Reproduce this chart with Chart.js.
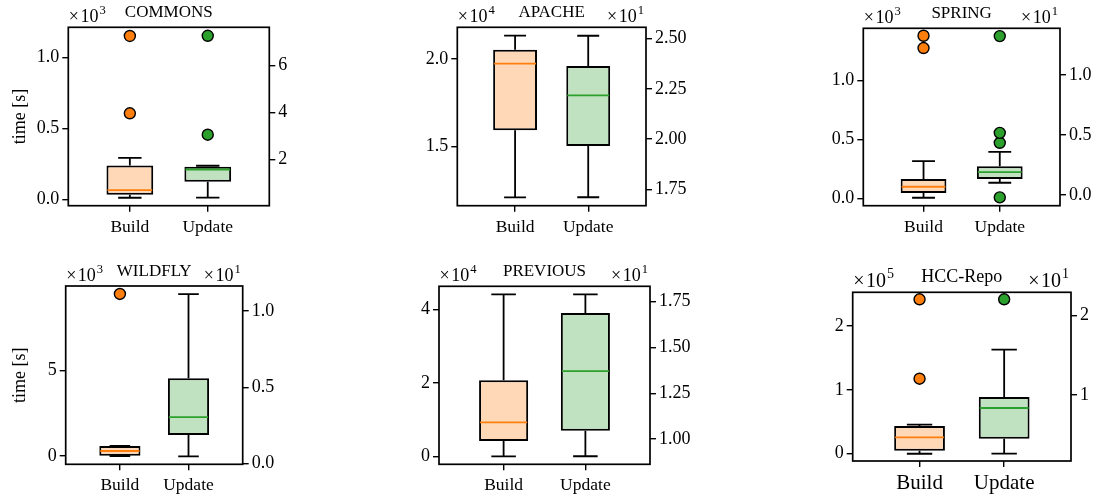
<!DOCTYPE html>
<html>
<head>
<meta charset="utf-8">
<script src="https://cdn.jsdelivr.net/npm/chart.js@4.4.1/dist/chart.umd.min.js"></script>
<style>
  html, body { margin: 0; padding: 0; background: #fff; overflow: hidden; }
  #wrap { position: relative; width: 1104px; height: 497px; overflow: hidden; }
  #wrap canvas { position: absolute; left: 0; top: 0; }
</style>
</head>
<body>
<div id="wrap"></div>
<script>
const categories = ['Build', 'Update'];
const titles = ['COMMONS', 'APACHE', 'SPRING', 'WILDFLY', 'PREVIOUS', 'HCC-Repo'];

// box stats, seconds: [lower whisker, Q1, median, Q3, upper whisker]
const buildStats = [
  [14, 35, 68, 240, 294],
  [12080, 15920, 19730, 20520, 21330],
  [8, 48, 101, 166, 318],
  [0, 20, 292, 584, 584],
  [0, 4170, 9270, 20730, 44180],
  [0, 4700, 25700, 43400, 45500]
];
const buildOutliers = [[607, 1150], [], [1273, 1377], [9457], [], [117600, 242000]];

const updateStats = [
  [0.37, 1.05, 1.57, 1.69, 1.73],
  [17.10, 19.65, 22.17, 23.63, 25.14],
  [1.02, 1.33, 1.91, 2.39, 3.60],
  [0.48, 1.88, 3.05, 5.58, 11.09],
  [9.06, 10.45, 13.71, 16.88, 17.90],
  [2.60, 4.49, 8.36, 9.75, 15.71]
];
const updateOutliers = [[3.05, 7.26], [], [-0.2, 4.35, 5.18, 13.24], [], [], [22.07]];

// tick values (seconds) and the labels shown for them
const buildTicks = [[0, 500, 1000], [15000, 20000], [0, 500, 1000], [0, 5000], [0, 20000, 40000], [0, 100000, 200000]];
const buildTickLabels = [['0.0', '0.5', '1.0'], ['1.5', '2.0'], ['0.0', '0.5', '1.0'], ['0', '5'], ['0', '2', '4'], ['0', '1', '2']];
const updateTicks = [[2, 4, 6], [17.5, 20, 22.5, 25], [0, 5, 10], [0, 5, 10], [10, 12.5, 15, 17.5], [10, 20]];
const updateTickLabels = [['2', '4', '6'], ['1.75', '2.00', '2.25', '2.50'], ['0.0', '0.5', '1.0'], ['0.0', '0.5', '1.0'], ['1.00', '1.25', '1.50', '1.75'], ['1', '2']];
const buildExp = ['3', '4', '3', '3', '4', '5'];
const updateExp = ['', '1', '1', '1', '1', '1'];

// layout: axes frames in page pixels [left, top, right, bottom] and axis limits
const frames = [
  [68.3, 27.3, 269.3, 205.7], [457.3, 27.3, 646, 205.7], [863.3, 28.3, 1060, 205.7],
  [65.7, 286, 242.7, 464.3], [439, 286.3, 650, 464.3], [852.7, 292.3, 1071, 461]
];
const buildRange = [[-42, 1211], [11600, 21810], [-59, 1440], [-485, 9920], [-2180, 46390], [-11400, 253000]];
const updateRange = [[0.03, 7.62], [16.68, 25.56], [-0.89, 13.89], [-0.04, 11.62], [8.62, 18.34], [1.68, 22.95]];

const W = 1104, H = 497, CW = 1300, LW = 60, RW = 60, BH = 34;
const SERIF = '"Liberation Serif", "DejaVu Serif", serif';
const ORANGE = '#ff7f0e', GREEN = '#2ca02c';
const ORANGE_FILL = '#ffd9b7', GREEN_FILL = '#c0e2c0';

Chart.defaults.color = '#000';
Chart.defaults.font.family = SERIF;

function drawExp(ctx, exp, x, y, align, size) {
  ctx.font = size + 'px ' + SERIF;
  const wx = ctx.measureText('×').width + 1.5;
  const w10 = ctx.measureText('10').width;
  ctx.font = (size * 0.7) + 'px ' + SERIF;
  const we = ctx.measureText(exp).width;
  const x0 = align === 'right' ? x - wx - w10 - we - 1 : x;
  ctx.textAlign = 'left';
  ctx.textBaseline = 'alphabetic';
  ctx.font = size + 'px ' + SERIF;
  ctx.fillText('×', x0, y);
  ctx.fillText('10', x0 + wx, y);
  ctx.font = (size * 0.7) + 'px ' + SERIF;
  ctx.fillText(exp, x0 + wx + w10 + 1, y - size * 0.42);
}

const boxPlugin = {
  id: 'boxes',
  afterDatasetsDraw(chart, args, opts) {
    const {ctx, scales} = chart;
    const x = scales.x;
    [opts.build, opts.update].forEach((s, i) => {
      const ys = scales[i === 0 ? 'y' : 'y1'];
      const cx = x.getPixelForValue(i + 1);
      const half = x.getPixelForValue(i + 1.3) - cx;
      const cap = half / 2;
      const p = v => ys.getPixelForValue(v);
      ctx.save();
      ctx.strokeStyle = '#000';
      ctx.lineWidth = 1.8;
      ctx.beginPath();
      ctx.moveTo(cx, p(s[0])); ctx.lineTo(cx, p(s[1]));
      ctx.moveTo(cx, p(s[3])); ctx.lineTo(cx, p(s[4]));
      ctx.moveTo(cx - cap, p(s[0])); ctx.lineTo(cx + cap, p(s[0]));
      ctx.moveTo(cx - cap, p(s[4])); ctx.lineTo(cx + cap, p(s[4]));
      ctx.stroke();
      ctx.strokeStyle = i === 0 ? ORANGE : GREEN;
      ctx.lineWidth = 1.8;
      ctx.beginPath();
      ctx.moveTo(cx - half + 1, p(s[2])); ctx.lineTo(cx + half - 1, p(s[2]));
      ctx.stroke();
      ctx.restore();
    });
  },
  afterDraw(chart, args, opts) {
    const {ctx, chartArea: a} = chart;
    ctx.save();
    ctx.strokeStyle = '#000';
    ctx.lineWidth = 1.7;
    ctx.strokeRect(a.left, a.top, a.right - a.left, a.bottom - a.top);
    ctx.fillStyle = '#000';
    ctx.font = opts.titleSize + 'px ' + SERIF;
    ctx.textAlign = 'center';
    ctx.textBaseline = 'alphabetic';
    ctx.fillText(opts.title, (a.left + a.right) / 2, a.top - 10.5);
    drawExp(ctx, opts.expL, a.left + 0.5, a.top - 5.5, 'left', opts.expSize);
    if (opts.expR) drawExp(ctx, opts.expR, a.right - 2, a.top - 5.5, 'right', opts.expSize);
    if (opts.ylabel) {
      ctx.translate(20, (a.top + a.bottom) / 2);
      ctx.rotate(-Math.PI / 2);
      ctx.font = '18px ' + SERIF;
      ctx.textAlign = 'center';
      ctx.textBaseline = 'middle';
      ctx.fillText(opts.ylabel, 0, 0);
    }
    ctx.restore();
  }
};

function yAxis(pos, range, ticks, labels, width) {
  return {
    type: 'linear',
    position: pos,
    min: range[0],
    max: range[1],
    afterFit: s => { s.width = width; },
    afterBuildTicks: s => { s.ticks = ticks.map(v => ({value: v})); },
    ticks: {
      callback: (v, idx) => labels[idx],
      font: {family: SERIF, size: 18},
      color: '#000',
      padding: 3,
      autoSkip: false
    },
    grid: {drawOnChartArea: false, drawTicks: true, tickLength: 6, color: '#000', lineWidth: 1.4},
    border: {display: false}
  };
}

function config(i) {
  const [l, t, r, b] = frames[i];
  const big = i === 5;
  return {
    type: 'bar',
    data: {
      datasets: [
        {
          type: 'bar', yAxisID: 'y',
          data: [{x: 1, y: [buildStats[i][1], buildStats[i][3]]}],
          backgroundColor: ORANGE_FILL, borderColor: '#000', borderWidth: 2, borderSkipped: false,
          grouped: false, barPercentage: 0.6, categoryPercentage: 1
        },
        {
          type: 'bar', yAxisID: 'y1',
          data: [{x: 2, y: [updateStats[i][1], updateStats[i][3]]}],
          backgroundColor: GREEN_FILL, borderColor: '#000', borderWidth: 2, borderSkipped: false,
          grouped: false, barPercentage: 0.6, categoryPercentage: 1
        },
        {
          type: 'scatter', yAxisID: 'y',
          data: buildOutliers[i].map(v => ({x: 1, y: v})),
          backgroundColor: ORANGE, borderColor: '#000', pointRadius: 5.5, pointBorderWidth: 1.4, showLine: false
        },
        {
          type: 'scatter', yAxisID: 'y1',
          data: updateOutliers[i].map(v => ({x: 2, y: v})),
          backgroundColor: GREEN, borderColor: '#000', pointRadius: 5.5, pointBorderWidth: 1.4, showLine: false
        }
      ]
    },
    options: {
      responsive: false,
      animation: false,
      events: [],
      layout: {padding: {left: l - LW, top: t, right: CW - r - RW, bottom: H - b - BH}},
      plugins: {
        legend: {display: false},
        tooltip: {enabled: false},
        boxes: {
          build: buildStats[i], update: updateStats[i],
          title: titles[i], titleSize: big ? 18 : 17,
          expL: buildExp[i], expR: updateExp[i], expSize: big ? 20 : 18,
          ylabel: (i === 0 || i === 3) ? 'time [s]' : ''
        }
      },
      scales: {
        x: {
          type: 'linear',
          offset: false,
          min: 0.21,
          max: 2.79,
          afterFit: s => { s.height = BH; },
          afterBuildTicks: s => { s.ticks = [{value: 1}, {value: 2}]; },
          ticks: {
            callback: (v, idx) => categories[idx],
            font: {family: SERIF, size: big ? 21 : 17.5},
            color: '#000',
            padding: big ? 4 : 5,
            autoSkip: false,
            maxRotation: 0
          },
          grid: {offset: false, drawOnChartArea: false, drawTicks: true, tickLength: 6, color: '#000', lineWidth: 1.4},
          border: {display: false}
        },
        y: yAxis('left', buildRange[i], buildTicks[i], buildTickLabels[i], LW),
        y1: yAxis('right', updateRange[i], updateTicks[i], updateTickLabels[i], RW)
      }
    },
    plugins: [boxPlugin]
  };
}

const wrap = document.getElementById('wrap');
titles.forEach((title, i) => {
  const cv = document.createElement('canvas');
  cv.width = CW;
  cv.height = H;
  cv.style.width = CW + 'px';
  cv.style.height = H + 'px';
  wrap.appendChild(cv);
  new Chart(cv, config(i));
});
</script>
</body>
</html>
